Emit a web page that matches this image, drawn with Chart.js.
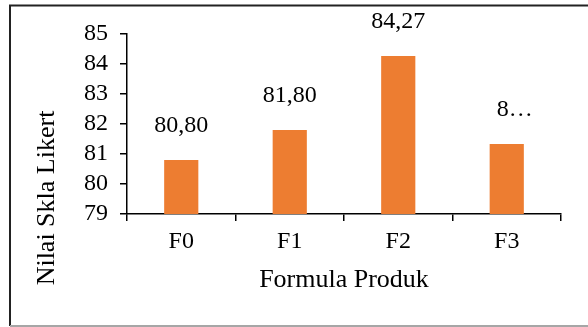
<!DOCTYPE html>
<html>
<head>
<meta charset="utf-8">
<script src="https://cdn.jsdelivr.net/npm/chart.js@4.4.1/dist/chart.umd.min.js"></script>
<style>
    html, body { margin: 0; padding: 0; background: #fff; }
    #wrap { position: relative; width: 588px; height: 327px; }
</style>
</head>
<body>
<div id="wrap"><canvas id="chart-likert"></canvas></div>
<script>
// Data
const kategori = ['F0', 'F1', 'F2', 'F3'];
const nilai = [80.80, 81.80, 84.27, 81.33];
const labelNilai = ['80,80', '81,80', '84,27', '8…'];
const judulX = 'Formula Produk';
const judulY = 'Nilai Skla Likert';
const yMin = 79;
const yMax = 85;

const FONT = '"Liberation Serif", "Times New Roman", serif';
const HITAM = '#000000';

// Bingkai luar + judul sumbu Y (digambar manual supaya posisinya pas)
const pluginBingkai = {
    id: 'bingkai',
    beforeDraw(chart) {
        const ctx = chart.ctx;
        ctx.save();
        ctx.lineWidth = 2;
        ctx.strokeStyle = '#222';
        ctx.beginPath();
        ctx.moveTo(10, 326);
        ctx.lineTo(10, 5.5);
        ctx.lineTo(600, 5.5);
        ctx.stroke();
        ctx.strokeStyle = '#a6a6a6';
        ctx.beginPath();
        ctx.moveTo(10, 326);
        ctx.lineTo(600, 326);
        ctx.stroke();
        ctx.restore();
    },
    afterDraw(chart) {
        const ctx = chart.ctx;
        ctx.save();
        ctx.translate(47, 198);
        ctx.rotate(-Math.PI / 2);
        ctx.font = '26px ' + FONT;
        ctx.fillStyle = HITAM;
        ctx.textAlign = 'center';
        ctx.textBaseline = 'middle';
        ctx.fillText(judulY, 0, 0);
        ctx.restore();
    }
};

// Label nilai di atas batang
const pluginLabel = {
    id: 'labelNilai',
    afterDatasetsDraw(chart) {
        const ctx = chart.ctx;
        const meta = chart.getDatasetMeta(0);
        ctx.save();
        ctx.font = '24px ' + FONT;
        ctx.fillStyle = HITAM;
        ctx.textAlign = 'center';
        ctx.textBaseline = 'middle';
        meta.data.forEach((bar, i) => {
            const geser = labelNilai[i].endsWith('…') ? 8 : 0;
            ctx.fillText(labelNilai[i], bar.x + geser, bar.y - 34);
        });
        ctx.restore();
    }
};

const ctx = document.getElementById('chart-likert').getContext('2d');
new Chart(ctx, {
    type: 'bar',
    data: {
        labels: kategori,
        datasets: [{
            data: nilai,
            backgroundColor: '#ED7D31',
            borderWidth: 0,
            categoryPercentage: 1,
            barPercentage: 0.315
        }]
    },
    options: {
        responsive: true,
        maintainAspectRatio: false,
        animation: false,
        events: [],
        layout: { padding: { left: 0, right: 27, top: 34, bottom: 0 } },
        plugins: {
            legend: { display: false },
            tooltip: { enabled: false }
        },
        scales: {
            x: {
                grid: {
                    display: true,
                    drawOnChartArea: false,
                    drawTicks: true,
                    tickLength: 7,
                    color: HITAM,
                    lineWidth: 1.5
                },
                border: { display: true, color: HITAM, width: 1.5 },
                ticks: {
                    color: HITAM,
                    padding: 6,
                    font: { family: FONT, size: 24 }
                },
                title: {
                    display: true,
                    text: judulX,
                    color: HITAM,
                    font: { family: FONT, size: 26 },
                    padding: { top: 0, bottom: 31 }
                },
                afterFit(scale) { scale.height = 113; }
            },
            y: {
                min: yMin,
                max: yMax,
                grid: {
                    display: true,
                    drawOnChartArea: false,
                    drawTicks: true,
                    tickLength: 7,
                    color: HITAM,
                    lineWidth: 1.5
                },
                border: { display: true, color: HITAM, width: 1.5 },
                ticks: {
                    stepSize: 1,
                    autoSkip: false,
                    color: HITAM,
                    padding: 12,
                    font: { family: FONT, size: 24 }
                },
                afterFit(scale) { scale.width = 127; }
            }
        }
    },
    plugins: [pluginBingkai, pluginLabel]
});
</script>
</body>
</html>
